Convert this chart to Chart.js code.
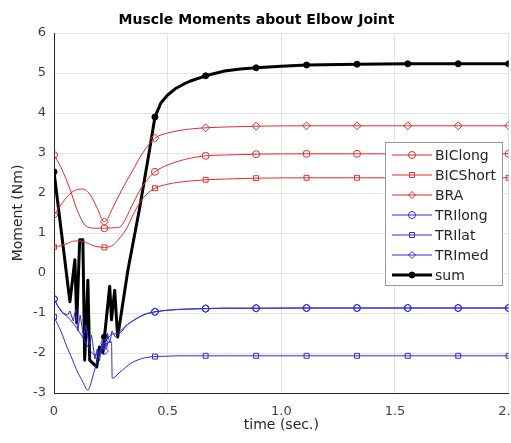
<!DOCTYPE html>
<html>
<head>
<meta charset="utf-8">
<script src="https://cdn.jsdelivr.net/npm/chart.js@4.4.0/dist/chart.umd.min.js"></script>
<style>
html, body { margin: 0; padding: 0; background: #fff; overflow: hidden; }
canvas { display: block; }
</style>
</head>
<body>
<canvas id="chart" width="530" height="443"></canvas>
<script>
// time (sec.) where the markers sit
const markerTimes = [0, 0.222, 0.444, 0.667, 0.889, 1.111, 1.333, 1.556, 1.778, 2.0];

const bicLongT = [0, 0.03, 0.07, 0.1, 0.136, 0.16, 0.18, 0.222, 0.26, 0.29, 0.31, 0.34, 0.376, 0.41, 0.444, 0.5, 0.55, 0.6, 0.667, 0.75, 0.889, 1.111, 1.333, 1.556, 1.778, 2.0];
const bicLongV = [2.95, 2.65, 2.1, 1.6, 1.2, 1.13, 1.12, 1.12, 1.13, 1.15, 1.3, 1.65, 2.05, 2.33, 2.53, 2.7, 2.8, 2.87, 2.93, 2.95, 2.97, 2.98, 2.98, 2.98, 2.98, 2.98];

const bicShortT = [0, 0.03, 0.06, 0.09, 0.12, 0.15, 0.18, 0.222, 0.26, 0.29, 0.32, 0.345, 0.376, 0.41, 0.444, 0.5, 0.55, 0.6, 0.667, 0.75, 0.889, 1.111, 1.333, 1.556, 1.778, 2.0];
const bicShortV = [0.65, 0.68, 0.74, 0.8, 0.8, 0.74, 0.67, 0.64, 0.7, 0.88, 1.12, 1.42, 1.75, 1.98, 2.12, 2.22, 2.27, 2.3, 2.33, 2.35, 2.37, 2.38, 2.38, 2.38, 2.38, 2.38];

const braT = [0, 0.03, 0.06, 0.09, 0.127, 0.16, 0.19, 0.222, 0.26, 0.3, 0.34, 0.39, 0.444, 0.5, 0.55, 0.6, 0.667, 0.75, 0.889, 1.111, 1.333, 1.556, 1.778, 2.0];
const braV = [1.45, 1.7, 1.92, 2.06, 2.1, 1.95, 1.62, 1.28, 1.65, 2.1, 2.5, 3.0, 3.37, 3.5, 3.56, 3.6, 3.63, 3.65, 3.67, 3.68, 3.68, 3.68, 3.68, 3.68];

const triLongT = [0, 0.03, 0.06, 0.09, 0.12, 0.15, 0.18, 0.2, 0.222, 0.25, 0.28, 0.32, 0.36, 0.4, 0.444, 0.5, 0.55, 0.6, 0.667, 0.75, 0.889, 1.111, 1.333, 1.556, 1.778, 2.0];
const triLongV = [-0.65, -0.95, -1.1, -1.3, -1.55, -1.85, -2.05, -1.95, -1.75, -1.55, -1.5, -1.3, -1.15, -1.03, -0.97, -0.93, -0.91, -0.9, -0.89, -0.88, -0.88, -0.875, -0.875, -0.875, -0.875, -0.875];

const triLatT = [0, 0.03, 0.057, 0.08, 0.1, 0.125, 0.149, 0.17, 0.2, 0.222, 0.253, 0.256, 0.29, 0.34, 0.4, 0.444, 0.5, 0.55, 0.6, 0.667, 0.75, 0.889, 1.111, 1.333, 1.556, 1.778, 2.0];
const triLatV = [-1.1, -1.45, -1.85, -2.15, -2.43, -2.7, -2.93, -2.6, -2.0, -1.82, -1.72, -2.63, -2.48, -2.25, -2.12, -2.09, -2.08, -2.07, -2.07, -2.07, -2.07, -2.07, -2.07, -2.07, -2.07, -2.07, -2.07];

const triMedT = [0, 0.02, 0.04, 0.06, 0.07, 0.085, 0.095, 0.105, 0.115, 0.13, 0.14, 0.155, 0.165, 0.18, 0.19, 0.2, 0.21, 0.222, 0.235, 0.245, 0.255, 0.27, 0.3, 0.32, 0.36, 0.4, 0.444, 0.5, 0.55, 0.6, 0.667, 0.75, 0.889, 1.111, 1.333, 1.556, 1.778, 2.0];
const triMedV = [-0.65, -0.85, -1.0, -1.05, -0.95, -1.2, -0.9, -1.45, -1.05, -1.6, -1.3, -1.8, -1.55, -2.15, -1.9, -2.2, -1.8, -1.95, -1.5, -1.75, -1.45, -1.6, -1.45, -1.3, -1.15, -1.03, -0.97, -0.93, -0.91, -0.9, -0.89, -0.88, -0.88, -0.875, -0.875, -0.875, -0.875, -0.875];

const sumT = [0, 0.07, 0.092, 0.1, 0.113, 0.127, 0.135, 0.149, 0.157, 0.188, 0.2, 0.215, 0.222, 0.245, 0.253, 0.267, 0.28, 0.325, 0.376, 0.42, 0.444, 0.47, 0.5, 0.537, 0.57, 0.6, 0.667, 0.75, 0.82, 0.889, 1.0, 1.111, 1.333, 1.556, 1.778, 2.0];
const sumV = [2.53, -0.72, 0.33, -1.25, 0.83, 0.83, -2.18, -0.18, -2.18, -2.35, -1.85, -2.0, -1.6, -0.33, -1.17, -0.43, -1.6, 0.07, 1.6, 3.07, 3.9, 4.25, 4.45, 4.62, 4.72, 4.8, 4.93, 5.05, 5.1, 5.13, 5.17, 5.2, 5.22, 5.23, 5.23, 5.23];

const RED = "rgb(226,45,45)";
const BLUE = "rgb(45,45,215)";
const FONT = "'DejaVu Sans', sans-serif";

const toXY = (t, v) => t.map((x, i) => ({ x: x, y: v[i] }));
const isMarker = (x) => markerTimes.some((m) => Math.abs(m - x) < 1e-6);

function series(label, t, v, color, style, width, radius, filled, smooth) {
	return {
		label: label,
		data: toXY(t, v),
		borderColor: color,
		borderWidth: width,
		backgroundColor: filled ? color : "rgba(0,0,0,0)",
		pointStyle: style,
		pointBorderColor: color,
		pointBackgroundColor: filled ? color : "rgba(0,0,0,0)",
		pointBorderWidth: 1,
		pointRadius: (ctx) => (ctx.raw && isMarker(ctx.raw.x) ? radius : 0),
		cubicInterpolationMode: smooth ? "monotone" : "default",
		tension: 0,
		borderJoinStyle: "round",
	};
}

const datasets = [
	series("BIClong", bicLongT, bicLongV, RED, "circle", 1, 3.5, false, true),
	series("BICShort", bicShortT, bicShortV, RED, "rect", 1, 3.5, false, true),
	series("BRA", braT, braV, RED, "rectRot", 1, 4, false, true),
	series("TRIlong", triLongT, triLongV, BLUE, "circle", 1, 3.5, false, true),
	series("TRIlat", triLatT, triLatV, BLUE, "rect", 1, 3.5, false, true),
	series("TRImed", triMedT, triMedV, BLUE, "rectRot", 1, 4, false, false),
	series("sum", sumT, sumV, "#000", "circle", 3, 3, true, false),
];

// legend box drawn inside the plot, like the original figure
const boxLegend = {
	id: "boxLegend",
	afterDraw(chart) {
		const ctx = chart.ctx;
		const left = 385, top = 142, w = 117, h = 143;
		ctx.save();
		ctx.fillStyle = "#fff";
		ctx.fillRect(left, top, w, h);
		ctx.strokeStyle = "#9a9a9a";
		ctx.lineWidth = 1;
		ctx.strokeRect(left + 0.5, top + 0.5, w, h);
		ctx.font = "14px " + FONT;
		ctx.textBaseline = "middle";
		chart.data.datasets.forEach((ds, i) => {
			const y = top + 13 + i * 20;
			ctx.strokeStyle = ds.borderColor;
			ctx.lineWidth = ds.borderWidth;
			ctx.beginPath();
			ctx.moveTo(left + 7, y);
			ctx.lineTo(left + 47, y);
			ctx.stroke();
			ctx.lineWidth = 1;
			ctx.fillStyle = ds.pointBackgroundColor;
			Chart.helpers.drawPoint(ctx, {
				pointStyle: ds.pointStyle,
				radius: ds.label === "sum" ? 3 : 3.5,
				rotation: 0,
				borderWidth: 1,
			}, left + 27, y);
			ctx.fillStyle = "#262626";
			ctx.fillText(ds.label, left + 50, y + 1);
		});
		ctx.restore();
	},
};

new Chart(document.getElementById("chart"), {
	type: "line",
	data: { datasets: datasets },
	plugins: [boxLegend],
	options: {
		responsive: false,
		animation: false,
		events: [],
		layout: { padding: { left: 0, right: 17, top: 0, bottom: 0 } },
		plugins: {
			legend: { display: false },
			tooltip: { enabled: false },
			title: {
				display: true,
				text: "Muscle Moments about Elbow Joint",
				color: "#000",
				font: { family: FONT, size: 14, weight: "bold" },
				padding: { top: 12, bottom: 4.2 },
			},
		},
		scales: {
			x: {
				type: "linear",
				min: 0,
				max: 2,
				afterFit: (scale) => { scale.height = 50; },
				ticks: { stepSize: 0.5, color: "#404040", font: { family: FONT, size: 13 }, padding: 11, maxRotation: 0 },
				grid: { color: "#e3e3e3", drawTicks: false },
				border: { color: "#262626" },
				title: { display: true, text: "time (sec.)", color: "#262626", font: { family: FONT, size: 14 }, padding: { top: 0, bottom: 9.6 } },
			},
			y: {
				min: -3,
				max: 6,
				afterFit: (scale) => { scale.width = 54; },
				ticks: { stepSize: 1, color: "#404040", font: { family: FONT, size: 13 }, padding: 8 },
				grid: { color: "#e3e3e3", drawTicks: false },
				border: { color: "#262626" },
				title: { display: true, text: "Moment (Nm)", color: "#262626", font: { family: FONT, size: 14 }, padding: { top: 10, bottom: 0 } },
			},
		},
	},
});
</script>
</body>
</html>
